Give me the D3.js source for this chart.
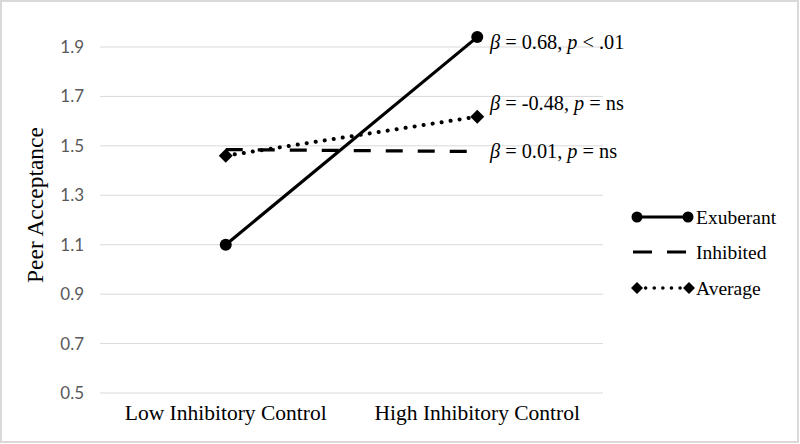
<!DOCTYPE html>
<html><head><meta charset="utf-8">
<script src="https://cdn.jsdelivr.net/npm/d3@7"></script>
<style>body{margin:0;background:#fff}svg{display:block}</style>
</head><body>
<svg id="c" width="800" height="444"></svg>
<script>
const categories = ["Low Inhibitory Control", "High Inhibitory Control"];
const seriesNames = ["Exuberant", "Inhibited", "Average"];
const exuberant = [1.10, 1.94];
const inhibited = [1.485, 1.477];
const average = [1.46, 1.618];
const yTicks = [0.5, 0.7, 0.9, 1.1, 1.3, 1.5, 1.7, 1.9];
const annotations = [
  {beta: "0.68", p: "< .01", series: 0},
  {beta: "-0.48", p: "= ns", series: 2},
  {beta: "0.01", p: "= ns", series: 1}
];

const svg = d3.select("#c");
svg.append("rect").attr("x",1).attr("y",1).attr("width",797).attr("height",441)
  .attr("fill","#fff").attr("stroke","#d9d9d9").attr("stroke-width",2);

const x = d3.scaleBand().domain(categories).range([100,603]);
const y = d3.scaleLinear().domain([0.5,1.9]).range([393,47]);

// gridlines
svg.append("g").selectAll("line").data(yTicks).join("line")
  .attr("x1",100).attr("x2",603).attr("y1",d=>y(d)).attr("y2",d=>y(d))
  .attr("stroke","#d9d9d9").attr("stroke-width",1);

// y axis labels
const yAxis = svg.append("g").attr("transform","translate(84,0)")
  .call(d3.axisLeft(y).tickValues(yTicks).tickFormat(d3.format(".1f")).tickSize(0).tickPadding(0));
yAxis.select(".domain").remove();
yAxis.selectAll("text").attr("fill","#595959").style("font-family","Lato, 'Open Sans', sans-serif").style("font-size","17px");

// x axis labels
const xAxis = svg.append("g").attr("transform","translate(0,412)")
  .call(d3.axisBottom(x).tickSize(0).tickPadding(0));
xAxis.select(".domain").remove();
xAxis.selectAll("text").attr("fill","#000").attr("dy","0.35em").style("font-family","'Liberation Serif', serif").style("font-size","21.5px");

// y title
svg.append("text").attr("transform","translate(35,205) rotate(-90)").attr("text-anchor","middle").attr("dy","0.35em")
  .style("font-family","'Liberation Serif', serif").style("font-size","23.5px").attr("fill","#000").text("Peer Acceptance");

const cx = d => x(d) + x.bandwidth()/2;
const line = d3.line().x((d,i)=>cx(categories[i])).y(d=>y(d));
const allSeries = [exuberant, inhibited, average];
const styles = [
  {dash:null, cap:"butt"},
  {dash:"17,15", cap:"butt"},
  {dash:"0.1,9", cap:"round"}
];

const diamond = (g, px, py, r) => g.append("path")
  .attr("d",`M${px},${py-r}L${px+r},${py}L${px},${py+r}L${px-r},${py}Z`).attr("fill","#000");

allSeries.forEach((vals,si)=>{
  svg.append("path").datum(vals).attr("d",line).attr("fill","none").attr("stroke","#000")
    .attr("stroke-width", si===2?4:3.2).attr("stroke-dasharray",styles[si].dash).attr("stroke-linecap",styles[si].cap);
});
// markers
exuberant.forEach((v,i)=>svg.append("circle").attr("cx",cx(categories[i])).attr("cy",y(v)).attr("r",6).attr("fill","#000"));
average.forEach((v,i)=>diamond(svg, cx(categories[i]), y(v), 7));

// annotations (label offsets from the series end point, in px)
const annOffset = [5, -14, -1];
annotations.forEach((a,i)=>{
  const vals = allSeries[a.series];
  const t = svg.append("text").attr("x",490).attr("y",y(vals[1]) + annOffset[i]).attr("dy","0.35em")
    .style("font-family","'Liberation Serif', serif").style("font-size","20.3px").attr("fill","#000");
  t.append("tspan").style("font-style","italic").text("β");
  t.append("tspan").text(" = " + a.beta + ", ");
  t.append("tspan").style("font-style","italic").text("p");
  t.append("tspan").text(" " + a.p);
});

// legend
const lg = svg.append("g");
const rows = [217, 252, 288];
lg.append("line").attr("x1",637).attr("x2",688).attr("y1",rows[0]).attr("y2",rows[0]).attr("stroke","#000").attr("stroke-width",3);
[637,688].forEach(px=>lg.append("circle").attr("cx",px).attr("cy",rows[0]).attr("r",5.5).attr("fill","#000"));
lg.append("line").attr("x1",633).attr("x2",686).attr("y1",rows[1]).attr("y2",rows[1]).attr("stroke","#000").attr("stroke-width",3).attr("stroke-dasharray","19,15");
lg.append("line").attr("x1",637).attr("x2",689).attr("y1",rows[2]).attr("y2",rows[2]).attr("stroke","#000").attr("stroke-width",3.5).attr("stroke-dasharray","0.1,8.5").attr("stroke-linecap","round");
[637,689].forEach(px=>diamond(lg, px, rows[2], 6));
seriesNames.forEach((n,i)=>{
  lg.append("text").attr("x", 696).attr("y",rows[i]).attr("dy","0.35em")
    .style("font-family","'Liberation Serif', serif").style("font-size","19.5px").attr("fill","#000").text(n);
});
</script>
</body></html>
